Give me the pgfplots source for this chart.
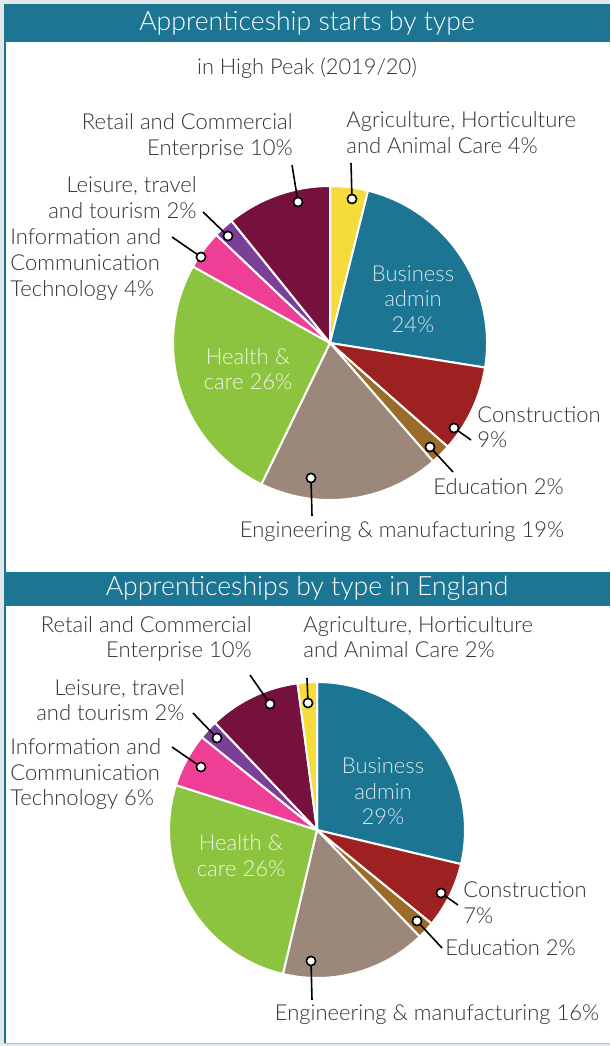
\documentclass[border=0pt]{standalone}
\usepackage{pgfplots}
\pgfplotsset{compat=1.18}
\usepackage{fontspec}
\setmainfont{Lato}[UprightFont=* Light]
\definecolor{teal}{HTML}{1C7592}
\definecolor{cyel}{HTML}{F6DC3A}
\definecolor{cred}{HTML}{9E2121}
\definecolor{cbrn}{HTML}{9A6B2A}
\definecolor{ceng}{HTML}{9C887B}
\definecolor{cgrn}{HTML}{8CC43F}
\definecolor{cpnk}{HTML}{EE3E95}
\definecolor{cpur}{HTML}{7B3F98}
\definecolor{cmar}{HTML}{76113D}
\definecolor{txt}{HTML}{333333}
\definecolor{bggray}{HTML}{E4E7E9}
\definecolor{bline}{HTML}{A9C4CF}
\tikzset{lbl/.style={text=txt, font=\fontsize{11}{13}\selectfont, inner sep=0pt, yshift=-1.4pt}}
% sector: cx, cy, r (px), start %, value %, colour
\newcommand\sector[6]{%
  \filldraw[fill=#6, draw=white, line width=1pt, line join=round]
    (axis cs:#1,#2) -- (axis cs:{#1+#3*sin(3.6*#4)},{#2-#3*cos(3.6*#4)})
    arc[start angle={90-3.6*#4}, end angle={90-3.6*(#4+#5)}, radius={#3*0.5pt}] -- cycle;}
\newcommand\leader[4]{%
  \draw[black, line width=0.8pt] (axis cs:#1,#2) -- (axis cs:#3,#4);
  \draw[black, fill=white, line width=0.8pt] (axis cs:#1,#2) circle[radius=2.3pt];}
\begin{document}
\begin{tikzpicture}
\begin{axis}[hide axis, scale only axis, width=305pt, height=523pt,
  xmin=0, xmax=610, ymin=0, ymax=1046, y dir=reverse, clip=false]
% frame
\fill[bggray] (axis cs:0,0) rectangle (axis cs:610,1046);
\fill[white] (axis cs:4,4) rectangle (axis cs:610,1043);
\fill[teal] (axis cs:4,4) rectangle (axis cs:5.5,1043);
\fill[bline] (axis cs:4,1042.5) rectangle (axis cs:610,1044);
\fill[teal] (axis cs:4,4) rectangle (axis cs:610,42);
\fill[teal] (axis cs:4,572) rectangle (axis cs:610,606);
\node[white, font=\fontsize{13.3}{15}\selectfont, anchor=mid, yshift=-1.5pt] at (axis cs:307,23) {Apprenticeship starts by type};
\node[white, font=\fontsize{13.3}{15}\selectfont, anchor=mid, yshift=-1pt] at (axis cs:307,589) {Apprenticeships by type in England};
\node[text=txt, font=\fontsize{10.9}{13}\selectfont, anchor=mid, yshift=-1.5pt] at (axis cs:307,67) {in High Peak (2019/20)};
% ---------- High Peak pie ----------
\sector{330}{343}{157}{0}{3.9}{cyel}
\sector{330}{343}{157}{3.9}{23.6}{teal}
\sector{330}{343}{157}{27.5}{9.0}{cred}
\sector{330}{343}{157}{36.5}{2.1}{cbrn}
\sector{330}{343}{157}{38.6}{18.6}{ceng}
\sector{330}{343}{157}{57.2}{25.9}{cgrn}
\sector{330}{343}{157}{83.1}{4.0}{cpnk}
\sector{330}{343}{157}{87.1}{2.1}{cpur}
\sector{330}{343}{157}{89.2}{10.8}{cmar}
\leader{352}{199}{351}{163}
\leader{298}{202}{292}{165}
\leader{228}{236}{203}{212}
\leader{201}{257}{172}{237}
\leader{454}{428}{471}{440}
\leader{430}{447}{453}{472}
\leader{311}{478}{312}{516}
\node[lbl, anchor=mid east] at (axis cs:293,122) {Retail and Commercial};
\node[lbl, anchor=mid east] at (axis cs:293,148) {Enterprise 10\%};
\node[lbl, anchor=mid east] at (axis cs:197,185) {Leisure, travel};
\node[lbl, anchor=mid east] at (axis cs:197,211) {and tourism 2\%};
\node[lbl, anchor=mid west] at (axis cs:10,237) {Information and};
\node[lbl, anchor=mid west] at (axis cs:10,263) {Communication};
\node[lbl, anchor=mid west] at (axis cs:10,289) {Technology 4\%};
\node[lbl, anchor=mid west] at (axis cs:346,120) {Agriculture, Horticulture};
\node[lbl, anchor=mid west] at (axis cs:346,146) {and Animal Care 4\%};
\node[lbl, anchor=mid west] at (axis cs:477,415) {Construction};
\node[lbl, anchor=mid west] at (axis cs:477,440) {9\%};
\node[lbl, anchor=mid west] at (axis cs:433,487) {Education 2\%};
\node[lbl, anchor=mid] at (axis cs:402,530) {Engineering \& manufacturing 19\%};
\node[lbl, text=white!82!teal, anchor=mid] at (axis cs:413,274) {Business};
\node[lbl, text=white!82!teal, anchor=mid] at (axis cs:413,299) {admin};
\node[lbl, text=white!82!teal, anchor=mid] at (axis cs:413,325) {24\%};
\node[lbl, text=white!85!cgrn, anchor=mid] at (axis cs:248,357) {Health \&};
\node[lbl, text=white!85!cgrn, anchor=mid] at (axis cs:248,382) {care 26\%};
% ---------- England pie ----------
\sector{317}{830}{148}{0}{28.7}{teal}
\sector{317}{830}{148}{28.7}{7.2}{cred}
\sector{317}{830}{148}{35.9}{1.9}{cbrn}
\sector{317}{830}{148}{37.8}{15.9}{ceng}
\sector{317}{830}{148}{53.7}{26.2}{cgrn}
\sector{317}{830}{148}{79.9}{5.9}{cpnk}
\sector{317}{830}{148}{85.8}{2.1}{cpur}
\sector{317}{830}{148}{87.9}{10.0}{cmar}
\sector{317}{830}{148}{97.9}{2.1}{cyel}
\leader{308}{703}{307}{678}
\leader{270}{704}{250}{675}
\leader{217}{738}{193}{713}
\leader{201}{767}{172}{747}
\leader{441}{893}{458}{905}
\leader{417}{921}{442}{948}
\leader{311}{961}{312}{1000}
\node[lbl, anchor=mid east] at (axis cs:252,625) {Retail and Commercial};
\node[lbl, anchor=mid east] at (axis cs:252,650) {Enterprise 10\%};
\node[lbl, anchor=mid east] at (axis cs:185,688) {Leisure, travel};
\node[lbl, anchor=mid east] at (axis cs:185,713) {and tourism 2\%};
\node[lbl, anchor=mid west] at (axis cs:10,747) {Information and};
\node[lbl, anchor=mid west] at (axis cs:10,773) {Communication};
\node[lbl, anchor=mid west] at (axis cs:10,798) {Technology 6\%};
\node[lbl, anchor=mid west] at (axis cs:303,625) {Agriculture, Horticulture};
\node[lbl, anchor=mid west] at (axis cs:303,650) {and Animal Care 2\%};
\node[lbl, anchor=mid west] at (axis cs:463,890) {Construction};
\node[lbl, anchor=mid west] at (axis cs:463,916) {7\%};
\node[lbl, anchor=mid west] at (axis cs:445,948) {Education 2\%};
\node[lbl, anchor=mid] at (axis cs:437,1013) {Engineering \& manufacturing 16\%};
\node[lbl, text=white!82!teal, anchor=mid] at (axis cs:383,766) {Business};
\node[lbl, text=white!82!teal, anchor=mid] at (axis cs:383,792) {admin};
\node[lbl, text=white!82!teal, anchor=mid] at (axis cs:383,817) {29\%};
\node[lbl, text=white!85!cgrn, anchor=mid] at (axis cs:241,843) {Health \&};
\node[lbl, text=white!85!cgrn, anchor=mid] at (axis cs:241,869) {care 26\%};
\end{axis}
\end{tikzpicture}
\end{document}
